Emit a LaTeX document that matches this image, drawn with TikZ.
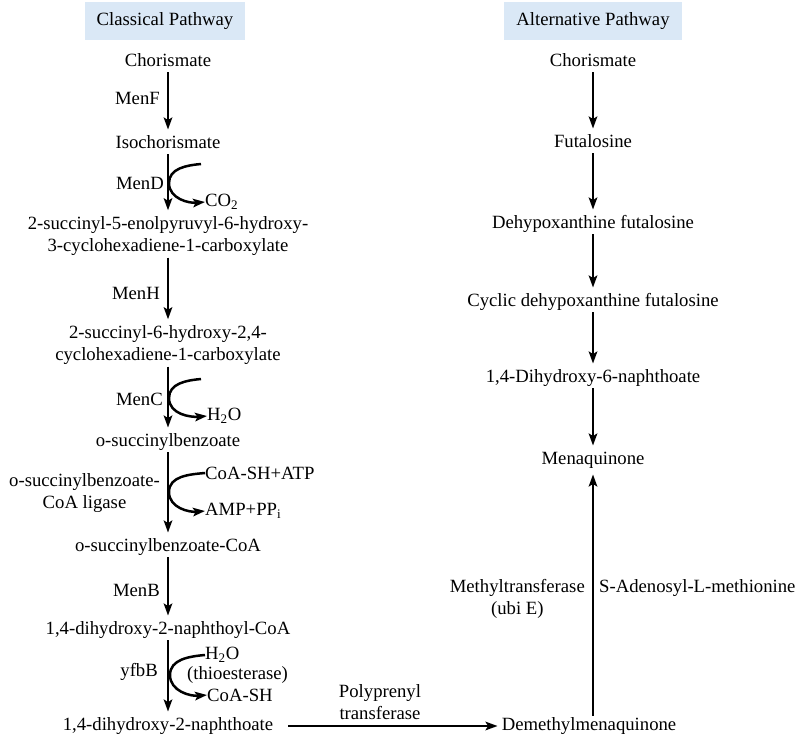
\documentclass[tikz,border=0pt]{standalone}
\usepackage{fontspec}
\setmainfont{Liberation Serif}
\usepackage{xcolor}
\usetikzlibrary{arrows.meta}
\definecolor{headblue}{RGB}{218,232,246}

\begin{document}
\begin{tikzpicture}[x=1pt,y=-1pt,
  font=\fontsize{18.7}{22}\selectfont,
  >={Stealth[length=12pt,width=8.5pt,inset=2.5pt]},
  cpd/.style={inner sep=2pt,text height=12.5pt,text depth=4pt},
  cpdtwo/.style={inner sep=2pt,align=center},
  enz/.style={anchor=east,inner sep=0pt,align=center},
  side/.style={anchor=west,inner sep=0pt},
  head/.style={fill=headblue,inner xsep=12pt,minimum height=38pt},
  conv/.style={->,line width=2.5pt,shorten >=4pt},
  sidearc/.style={->,line width=2.5pt}]
\useasboundingbox (0,0) rectangle (802,738);

% headers
\node[head] (hL) at (165,21) {Classical Pathway};
\node[head] (hR) at (593,21) {Alternative Pathway};

% classical pathway
\node[cpd] (chorL) at (168,62) {Chorismate};
\node[cpd] (iso) at (168,144) {Isochorismate};
\node[cpdtwo] (sephc) at (168,236) {2-succinyl-5-enolpyruvyl-6-hydroxy-\\3-cyclohexadiene-1-carboxylate};
\node[cpdtwo] (shchc) at (168,345) {2-succinyl-6-hydroxy-2,4-\\cyclohexadiene-1-carboxylate};
\node[cpd] (osb) at (168,442) {o-succinylbenzoate};
\node[cpd] (osbcoa) at (168,547) {o-succinylbenzoate-CoA};
\node[cpd] (dhnacoa) at (168,630) {1,4-dihydroxy-2-naphthoyl-CoA};
\node[cpd] (dhna) at (168,726) {1,4-dihydroxy-2-naphthoate};

\draw[conv] (chorL) -- (iso);
\draw[conv] (iso) -- (sephc);
\draw[conv] (sephc) -- (shchc);
\draw[conv] (shchc) -- (osb);
\draw[conv] (osb) -- (osbcoa);
\draw[conv] (osbcoa) -- (dhnacoa);
\draw[conv] (dhnacoa) -- (dhna);

\node[enz] (menf) at (160,98) {MenF};
\node[enz] (mend) at (164,183) {MenD};
\node[enz] (menh) at (160,293) {MenH};
\node[enz] (menc) at (163,399) {MenC};
\node[enz] (lig) at (160,493) {o-succinylbenzoate-\\CoA ligase};
\node[enz] (menb) at (160,590) {MenB};
\node[enz] (yfbb) at (158,672) {yfbB};

% side products
\node[side] (co2) at (205,202) {CO\textsubscript{2}};
\coordinate (co2in) at (201,164);
\coordinate (co2m) at (169,183);
\draw[sidearc] (co2in) to[out=185,in=90] (co2m) to[out=-90,in=185] (co2.west);

\node[side] (h2oa) at (207,416) {H\textsubscript{2}O};
\coordinate (h2oin) at (201,379);
\coordinate (h2om) at (169,398);
\draw[sidearc] (h2oin) to[out=185,in=90] (h2om) to[out=-90,in=185] (h2oa.west);

\node[side] (coaatp) at (205,473) {CoA-SH+ATP};
\node[side] (amp) at (205,511) {AMP+PP\textsubscript{i}};
\coordinate (ligm) at (169,492);
\draw[sidearc] (coaatp.west) to[out=185,in=90] (ligm) to[out=-90,in=185] (amp.west);

\node[side] (h2ob) at (205,655) {H\textsubscript{2}O};
\node[side] (thio) at (187,675) {(thioesterase)};
\node[side] (coash) at (207,695) {CoA-SH};
\coordinate (yfbm) at (170,675);
\draw[sidearc] (h2ob.west) to[out=185,in=90] (yfbm) to[out=-90,in=185] (coash.west);

% alternative pathway
\node[cpd] (chorR) at (593,62) {Chorismate};
\node[cpd] (futa) at (593,143) {Futalosine};
\node[cpd] (dhfl) at (593,224) {Dehypoxanthine futalosine};
\node[cpd] (cdhfl) at (593,302) {Cyclic dehypoxanthine futalosine};
\node[cpd] (dhn) at (593,378) {1,4-Dihydroxy-6-naphthoate};
\node[cpd] (mk) at (593,460) {Menaquinone};
\node[cpd] (dmk) at (589,726) {Demethylmenaquinone};

\draw[conv] (chorR) -- (futa);
\draw[conv] (futa) -- (dhfl);
\draw[conv] (dhfl) -- (cdhfl);
\draw[conv] (cdhfl) -- (dhn);
\draw[conv] (dhn) -- (mk);
\draw[conv] (dmk.north -| mk.south) -- (mk.south);

\node[enz] (ubie) at (585,599) {Methyltransferase\\(ubi E)};
\node[side] (sam) at (599,588) {S-Adenosyl-L-methionine};

% link between the two pathways
\draw[conv,shorten <=13pt,shorten >=2pt] (dhna.east) -- (dmk.west);
\node[align=center,inner sep=0pt] (ppt) at (380,702) {Polyprenyl\\transferase};
\end{tikzpicture}
\end{document}
